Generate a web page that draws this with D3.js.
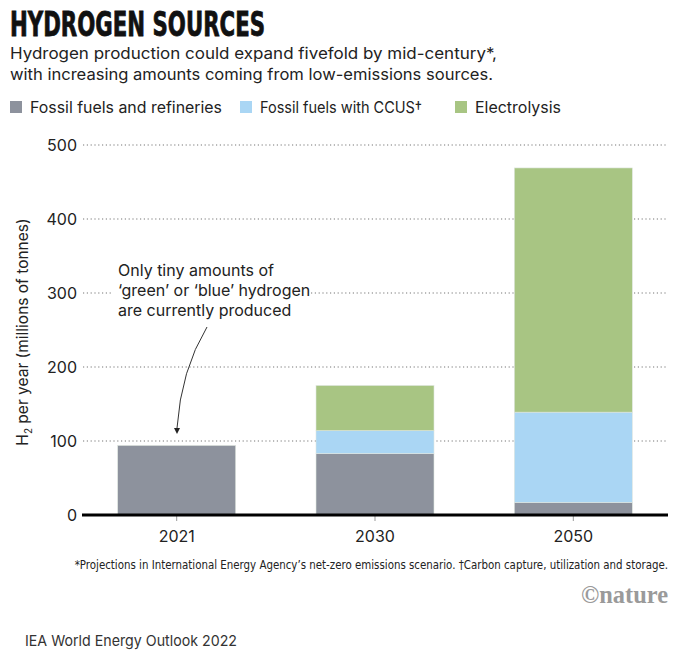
<!DOCTYPE html>
<html>
<head>
<meta charset="utf-8">
<script src="https://cdn.jsdelivr.net/npm/d3@7"></script>
<style>
body{margin:0;background:#fff;}
svg{display:block;font-family:Inter,Roboto,"Noto Sans",sans-serif;}
</style>
</head>
<body>
<svg id="c" width="680" height="655"></svg>
<script>
const years = ["2021", "2030", "2050"];
const seriesNames = ["Fossil fuels and refineries", "Fossil fuels with CCUS\u2020", "Electrolysis"];
const fossil = [94, 83, 17];
const ccus = [0, 31, 122];
const electrolysis = [0, 61, 330];
const yTicks = [0, 100, 200, 300, 400, 500];
const colors = ["#8d929d", "#aad6f4", "#a8c583"];

const svg = d3.select("#c");
const SANS = "Inter,Roboto,'Noto Sans',sans-serif";
const NARROW = "'Liberation Sans Narrow','DejaVu Sans Condensed','Roboto Condensed',sans-serif";

// Title and subtitle
svg.append("text").attr("x", 10).attr("y", 36)
  .style("font-family", NARROW)
  .attr("font-weight", "bold").attr("font-size", 34).attr("fill", "#111")
  .attr("stroke", "#111").attr("stroke-width", 0.8)
  .attr("textLength", 255).attr("lengthAdjust", "spacingAndGlyphs")
  .text("HYDROGEN SOURCES");
svg.append("text").attr("x", 10).attr("y", 59).attr("font-size", 16).attr("fill", "#222")
  .style("font-family", SANS)
  .attr("textLength", 487).attr("lengthAdjust", "spacingAndGlyphs")
  .text("Hydrogen production could expand fivefold by mid-century*,");
svg.append("text").attr("x", 10).attr("y", 80).attr("font-size", 16).attr("fill", "#222")
  .style("font-family", SANS)
  .attr("textLength", 483).attr("lengthAdjust", "spacingAndGlyphs")
  .text("with increasing amounts coming from low-emissions sources.");

// Legend
const legX = [10, 240, 455];
const legW = [192, 162, 86];
const leg = svg.append("g");
seriesNames.forEach((n, i) => {
  leg.append("rect").attr("x", legX[i]).attr("y", 101).attr("width", 12).attr("height", 12).attr("fill", colors[i]);
  leg.append("text").attr("x", legX[i] + 20).attr("y", 113).attr("font-size", 16).attr("fill", "#222")
    .style("font-family", SANS)
    .attr("textLength", legW[i]).attr("lengthAdjust", "spacingAndGlyphs").text(n);
});

// Scales
const x = d3.scaleBand().domain(years).range([82, 668]).paddingInner(0.405).paddingOuter(0.18);
const y = d3.scaleLinear().domain([0, 500]).range([515, 145]);

// Gridlines (dotted)
const grid = svg.append("g");
yTicks.filter(t => t > 0).forEach(t => {
  grid.append("line").attr("x1", 83).attr("x2", 668).attr("y1", y(t)).attr("y2", y(t))
    .attr("stroke", "#777").attr("stroke-width", 1.2).attr("stroke-dasharray", "1.2,2.6");
});

// Y axis labels
const yAxis = d3.axisLeft(y).tickValues(yTicks).tickSize(0).tickPadding(0);
const yg = svg.append("g").attr("transform", "translate(77,0)").call(yAxis);
yg.select(".domain").remove();
yg.selectAll("text").attr("font-size", 16).attr("fill", "#222")
  .style("font-family", SANS).attr("dy", "0.35em");

// Y axis title
const yt = svg.append("text").attr("transform", "translate(28,332) rotate(-90)")
  .style("font-family", SANS)
  .attr("text-anchor", "middle").attr("font-size", 15.5).attr("fill", "#222");
yt.append("tspan").text("H");
yt.append("tspan").attr("font-size", 10).attr("dy", 4).text("2");
yt.append("tspan").attr("dy", -4).text(" per year (millions of tonnes)");

// Stacked bars
const rows = years.map((yr, i) => ({year: yr, fossil: fossil[i], ccus: ccus[i], electrolysis: electrolysis[i]}));
const stack = d3.stack().keys(["fossil", "ccus", "electrolysis"]);
const stacked = stack(rows);
const bars = svg.append("g");
stacked.forEach((layer, li) => {
  bars.append("g").attr("fill", colors[li]).selectAll("rect").data(layer).join("rect")
    .attr("x", d => x(d.data.year))
    .attr("width", x.bandwidth())
    .attr("y", d => y(d[1]))
    .attr("height", d => Math.max(0, y(d[0]) - y(d[1])))
    .attr("stroke", d => (d[1] - d[0]) > 0 ? "#dfe6e0" : "none")
    .attr("stroke-width", 0.6);
});

// X axis
const xAxis = d3.axisBottom(x).tickSize(6).tickPadding(10);
const xg = svg.append("g").attr("transform", "translate(0,515)").call(xAxis);
xg.select(".domain").remove();
xg.selectAll(".tick line").attr("stroke", "#999").attr("stroke-width", 1);
xg.selectAll("text").attr("font-size", 16).attr("fill", "#222").style("font-family", SANS);
svg.append("line").attr("x1", 82).attr("x2", 668).attr("y1", 515).attr("y2", 515)
  .attr("stroke", "#000").attr("stroke-width", 3.2);

// Annotation
const ann = ["Only tiny amounts of", "\u2018green\u2019 or \u2018blue\u2019 hydrogen", "are currently produced"];
svg.append("rect").attr("x", 112).attr("y", 282).attr("width", 198).attr("height", 18).attr("fill", "#fff");
ann.forEach((t, i) => {
  svg.append("text").attr("x", 118).attr("y", 276 + i * 20).attr("font-size", 16).attr("fill", "#222")
    .style("font-family", SANS).text(t);
});
svg.append("path").attr("d", "M207,327 Q181,370 177,428")
  .attr("fill", "none").attr("stroke", "#333").attr("stroke-width", 1);
svg.append("path").attr("d", "M174,428 L180,428 L177,434 Z").attr("fill", "#222");

// Footnote
svg.append("text").attr("x", 668).attr("y", 569).attr("font-size", 11.4).attr("fill", "#222")
  .attr("text-anchor", "end")
  .style("font-family", NARROW)
  .text("*Projections in International Energy Agency\u2019s net-zero emissions scenario. \u2020Carbon capture, utilization and storage.");

// nature logo
svg.append("text").attr("x", 668).attr("y", 603).attr("text-anchor", "end")
  .style("font-family", "'Liberation Serif','DejaVu Serif',serif").attr("font-weight", "bold")
  .attr("font-size", 26).attr("fill", "#9a9a9a")
  .attr("textLength", 87).attr("lengthAdjust", "spacingAndGlyphs")
  .text("\u00a9nature");

// Source
svg.append("text").attr("x", 25).attr("y", 646).attr("font-size", 15).attr("fill", "#333")
  .style("font-family", SANS)
  .attr("textLength", 212).attr("lengthAdjust", "spacingAndGlyphs")
  .text("IEA World Energy Outlook 2022");
</script>
</body>
</html>
